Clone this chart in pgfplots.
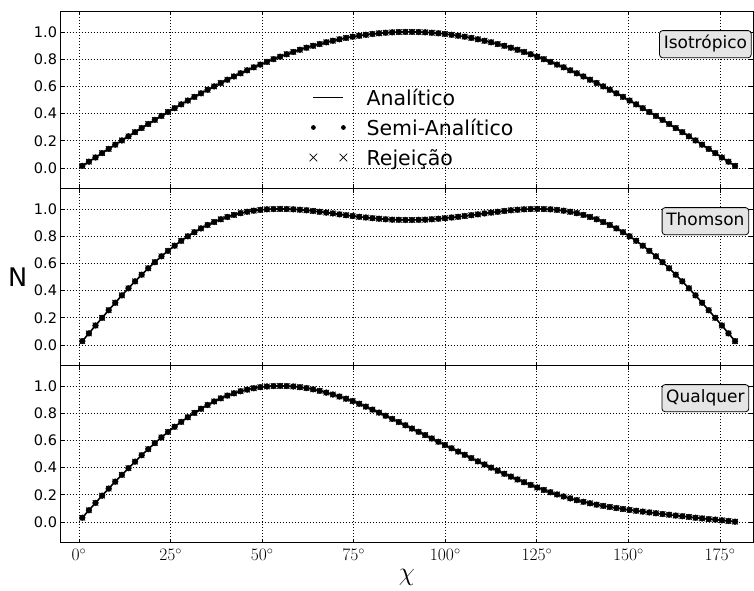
\RequirePackage{fix-cm}
\documentclass[border=0pt]{standalone}
\usepackage[no-math]{fontspec}
\setmainfont{DejaVu Sans}
\usepackage{pgfplots}
\usepackage{pgfplotstable}
\pgfplotsset{compat=1.18}

\pgfplotstableread{
x iso thom qual
0.9 0.016 0.029 0.032
2.7 0.047 0.086 0.087
4.5 0.078 0.144 0.141
6.3 0.110 0.200 0.194
8.1 0.141 0.256 0.246
9.9 0.172 0.311 0.297
11.7 0.203 0.365 0.347
13.5 0.233 0.417 0.396
15.3 0.264 0.468 0.444
17.1 0.294 0.517 0.491
18.9 0.324 0.564 0.536
20.7 0.354 0.609 0.580
22.5 0.383 0.652 0.622
24.3 0.412 0.692 0.662
26.1 0.440 0.730 0.700
27.9 0.468 0.766 0.736
29.7 0.496 0.799 0.770
31.5 0.523 0.829 0.802
33.3 0.549 0.857 0.832
35.1 0.575 0.882 0.860
36.9 0.600 0.904 0.886
38.7 0.625 0.924 0.909
40.5 0.649 0.941 0.929
42.3 0.673 0.956 0.946
44.1 0.696 0.969 0.961
45.9 0.718 0.979 0.973
47.7 0.740 0.987 0.983
49.5 0.760 0.993 0.991
51.3 0.780 0.997 0.996
53.1 0.800 0.999 0.999
54.9 0.818 1.000 1.000
56.7 0.836 0.999 0.999
58.5 0.853 0.997 0.996
60.3 0.869 0.994 0.991
62.1 0.884 0.990 0.984
63.9 0.898 0.985 0.975
65.7 0.911 0.979 0.964
67.5 0.924 0.973 0.951
69.3 0.935 0.967 0.937
71.1 0.946 0.960 0.922
72.9 0.956 0.954 0.906
74.7 0.965 0.948 0.889
76.5 0.972 0.942 0.869
78.3 0.979 0.937 0.848
80.1 0.985 0.932 0.826
81.9 0.990 0.928 0.804
83.7 0.994 0.924 0.781
85.5 0.997 0.921 0.758
87.3 0.999 0.920 0.735
89.1 1.000 0.919 0.711
90.9 1.000 0.919 0.687
92.7 0.999 0.920 0.663
94.5 0.997 0.921 0.639
96.3 0.994 0.924 0.614
98.1 0.990 0.928 0.590
99.9 0.985 0.932 0.566
101.7 0.979 0.937 0.542
103.5 0.972 0.942 0.518
105.3 0.965 0.948 0.494
107.1 0.956 0.954 0.470
108.9 0.946 0.960 0.446
110.7 0.935 0.967 0.423
112.5 0.924 0.973 0.400
114.3 0.911 0.979 0.377
116.1 0.898 0.985 0.355
117.9 0.884 0.990 0.334
119.7 0.869 0.994 0.313
121.5 0.853 0.997 0.293
123.3 0.836 0.999 0.273
125.1 0.818 1.000 0.254
126.9 0.800 0.999 0.236
128.7 0.780 0.997 0.219
130.5 0.760 0.993 0.203
132.3 0.740 0.987 0.188
134.1 0.718 0.979 0.174
135.9 0.696 0.969 0.161
137.7 0.673 0.956 0.149
139.5 0.649 0.941 0.138
141.3 0.625 0.924 0.128
143.1 0.600 0.904 0.119
144.9 0.575 0.882 0.111
146.7 0.549 0.857 0.103
148.5 0.523 0.829 0.096
150.3 0.496 0.799 0.089
152.1 0.468 0.766 0.083
153.9 0.440 0.730 0.077
155.7 0.412 0.692 0.071
157.5 0.383 0.652 0.065
159.3 0.354 0.609 0.059
161.1 0.324 0.564 0.054
162.9 0.294 0.517 0.048
164.7 0.264 0.468 0.043
166.5 0.233 0.417 0.038
168.3 0.203 0.365 0.032
170.1 0.172 0.311 0.027
171.9 0.141 0.256 0.022
173.7 0.110 0.200 0.018
175.5 0.078 0.144 0.013
177.3 0.047 0.086 0.008
179.1 0.016 0.029 0.003
}\data

\tikzset{
  lbox/.style={draw=black, line width=0.8pt, fill=gray!20, rounded corners=3pt,
    inner xsep=4.2pt, inner ysep=4.8pt, text height=13.5pt, text depth=4pt,
    font=\fontsize{17}{20}\selectfont},
}

\pgfplotsset{
  panel/.style={
    width=692.3pt, height=177pt, scale only axis,
    xmin=-5, xmax=184, ymin=-0.15, ymax=1.15,
    xtick={0,25,50,75,100,125,150,175},
    ytick={0,0.2,0.4,0.6,0.8,1.0},
    grid=major,
    grid style={black, line width=0.8pt, dash pattern=on 0.8pt off 2.2pt},
    axis line style={black, line width=1pt},
    tick align=inside, major tick length=4pt,
    tick style={black, line width=0.8pt},
    /pgf/number format/assume math mode=true,
    yticklabel style={font=\fontsize{14.5}{16}\selectfont, inner sep=0pt, xshift=-3.5pt,
      /pgf/number format/fixed, /pgf/number format/fixed zerofill, /pgf/number format/precision=1},
    xticklabel style={font=\fontsize{17.5}{20}\selectfont, anchor=center, inner sep=0pt, yshift=-12pt},
    clip=false,
  },
  ana/.style={black, line width=1.6pt, mark=none,
    legend image code/.code={\path[draw=none, fill=none] (-4pt,0pt) -- (34pt,0pt);
      \draw[black, line width=1pt] (0pt,0pt) -- (30pt,0pt);}},
  semi/.style={black, only marks, mark=*, mark size=2.9pt,
    legend image code/.code={\path[draw=none, fill=none] (-4pt,0pt) -- (34pt,0pt);
      \fill[black, draw=none] (0pt,0pt) circle[radius=2.4pt];
      \fill[black, draw=none] (30pt,0pt) circle[radius=2.4pt];}},
  rej/.style={black, only marks, mark=x, mark size=3.9pt, mark options={line width=0.8pt},
    legend image code/.code={\path[draw=none, fill=none] (-4pt,0pt) -- (34pt,0pt);
      \draw[black, line width=0.7pt] (-3.8pt,-3.8pt) -- (3.8pt,3.8pt) (-3.8pt,3.8pt) -- (3.8pt,-3.8pt);
      \draw[black, line width=0.7pt] (26.2pt,-3.8pt) -- (33.8pt,3.8pt) (26.2pt,3.8pt) -- (33.8pt,-3.8pt);}},
}

\begin{document}
\begin{tikzpicture}
\path[use as bounding box] (0,0) rectangle (754pt,590pt);

% top panel
\begin{axis}[panel, at={(60.7pt,401.5pt)}, anchor=south west, xticklabels={},
  legend cell align=left,
  legend style={at={(axis cs:62.8,0.298)}, anchor=west, draw=none, fill=none, inner sep=0pt,
    font=\fontsize{20.5}{24}\selectfont, row sep=4.4pt,
    nodes={inner sep=0pt, text height=20.6pt, text depth=5pt},
    /tikz/every odd column/.append style={column sep=19pt}}]
\addplot[ana] table[x=x, y=iso] {\data};
\addlegendentry{Analítico}
\addplot[semi] table[x=x, y=iso] {\data};
\addlegendentry{Semi-Analítico}
\addplot[rej] table[x=x, y=iso] {\data};
\addlegendentry{Rejeição}
\node[lbox] at (axis cs:171,0.91) {Isotrópico};
\end{axis}

% middle panel
\begin{axis}[panel, at={(60.7pt,224.5pt)}, anchor=south west, xticklabels={}]
\addplot[ana] table[x=x, y=thom] {\data};
\addplot[semi] table[x=x, y=thom] {\data};
\addplot[rej] table[x=x, y=thom] {\data};
\node[lbox] at (axis cs:171,0.91) {Thomson};
\node[font=\fontsize{25.6}{30}\selectfont] at (rel axis cs:-0.0621,0.5) {N};
\end{axis}

% bottom panel
\begin{axis}[panel, at={(60.7pt,47.5pt)}, anchor=south west,
  xticklabels={$0^\circ$,$25^\circ$,$50^\circ$,$75^\circ$,$100^\circ$,$125^\circ$,$150^\circ$,$175^\circ$},
  xlabel={$\chi$},
  xlabel style={at={(rel axis cs:0.5,-0.195)}, anchor=center, font=\fontsize{26}{30}\selectfont}]
\addplot[ana] table[x=x, y=qual] {\data};
\addplot[semi] table[x=x, y=qual] {\data};
\addplot[rej] table[x=x, y=qual] {\data};
\node[lbox] at (axis cs:171,0.91) {Qualquer};
\end{axis}
\end{tikzpicture}
\end{document}
